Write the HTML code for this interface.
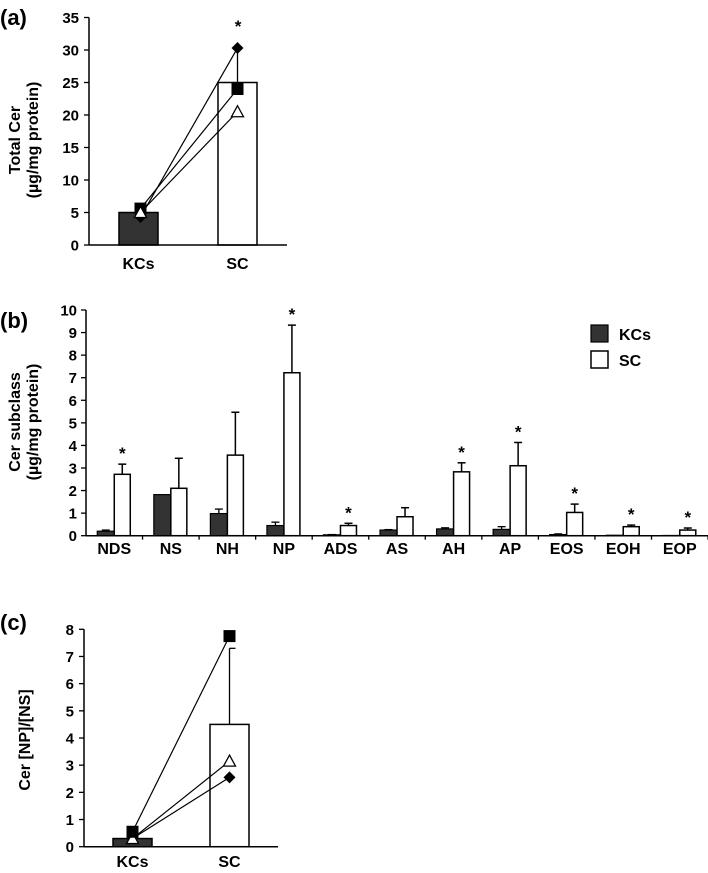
<!DOCTYPE html>
<html><head><meta charset="utf-8"><style>
html,body{margin:0;padding:0;background:#fff}
svg{display:block;font-family:"Liberation Sans",Arial,sans-serif}
</style></head><body>
<svg id="fig" width="708" height="873" viewBox="0 0 708 873" xmlns="http://www.w3.org/2000/svg"></svg>
<script>
// Panel a data
const aGroups = ["KCs","SC"];
const aMeans = [5.0, 25.0];
const aErrTop = [null, 30.3];
const aDiamond = [4.3, 30.3];
const aSquare = [5.6, 24.0];
const aTriangle = [5.0, 20.5];
const aTicks = [0,5,10,15,20,25,30,35];
// Panel b data
const bCats = ["NDS","NS","NH","NP","ADS","AS","AH","AP","EOS","EOH","EOP"];
const bKC = [0.2,1.82,0.98,0.45,0.04,0.25,0.3,0.28,0.05,0.02,0.01];
const bKCerr = [0.25,1.82,1.18,0.6,0.05,0.27,0.35,0.4,0.08,0.02,0.01];
const bSC = [2.72,2.1,3.57,7.22,0.45,0.84,2.83,3.1,1.03,0.4,0.25];
const bSCerr = [3.17,3.43,5.47,9.33,0.55,1.24,3.23,4.13,1.4,0.47,0.34];
const bStar = [1,0,0,1,1,0,1,1,1,1,1];
const bTicks = [0,1,2,3,4,5,6,7,8,9,10];
// Panel c data
const cGroups = ["KCs","SC"];
const cMeans = [0.3, 4.5];
const cErrTop = [null, 7.3];
const cSquare = [0.55, 7.75];
const cTriangle = [0.3, 3.15];
const cDiamond = [0.3, 2.55];
const cTicks = [0,1,2,3,4,5,6,7,8];

const svg=document.getElementById('fig');
const NS='http://www.w3.org/2000/svg';
function mk(tag,attrs,parent){const e=document.createElementNS(NS,tag);for(const k in attrs)e.setAttribute(k,attrs[k]);(parent||svg).appendChild(e);return e;}
function txt(s,x,y,size,anchor,weight,name,rot){const t=mk('text',{x:x,y:y,'font-size':size,'text-anchor':anchor||'middle','font-weight':weight||'bold',fill:'#000'});if(rot)t.setAttribute('transform','rotate(-90 '+x+' '+y+')');t.textContent=s;


return t;}
function line(x1,y1,x2,y2,w,name){const l=mk('line',{x1:x1,y1:y1,x2:x2,y2:y2,stroke:'#000','stroke-width':w||1.5});


return l;}
function marker(type,x,y,name){let e;
 if(type==='sq')e=mk('rect',{x:x-6,y:y-6,width:12,height:12,fill:'#000'});
 else if(type==='di')e=mk('polygon',{points:`${x},${y-6} ${x+6},${y} ${x},${y+6} ${x-6},${y}`,fill:'#000'});
 else e=mk('polygon',{points:`${x},${y-6} ${x+6},${y+5} ${x-6},${y+5}`,fill:'#fff',stroke:'#000','stroke-width':1.3});
 
 }

// ---------- Panel a ----------
(function(){
 const x0=89,x1=287,y0=245,y1=17.5,max=35;
 const ys=v=>y0-(v/max)*(y0-y1);
 const cx=[138.5,237.5];
 txt('(a)',0,25,22,'start','bold','panel-a-label');
 aTicks.forEach(t=>{line(x0-5,ys(t),x0,ys(t),1.3,'a-y-tick');txt(String(t),79,ys(t)+5.5,15,'end','bold','a-y-tick-label');});
 const cols=['#333','#fff'];
 aMeans.forEach((m,i)=>{const r=mk('rect',{x:cx[i]-19.5,y:ys(m),width:39,height:y0-ys(m),fill:cols[i],stroke:'#000','stroke-width':1.5});
  
  
  if(aErrTop[i]!=null){line(cx[i],ys(m),cx[i],ys(aErrTop[i]),1.3,'a-error-bar');}
  txt(aGroups[i],cx[i],269,16,'middle','bold','a-x-label');});
 txt('*',238,32,17,'middle','bold','a-significance');
 [[aDiamond,'di'],[aSquare,'sq'],[aTriangle,'tr']].forEach(([arr,t])=>{line(cx[0]+2,ys(arr[0]),cx[1],ys(arr[1]),1.2,'a-paired-line');});
 [[aDiamond,'di'],[aSquare,'sq'],[aTriangle,'tr']].forEach(([arr,t])=>{marker(t,cx[0]+2,ys(arr[0]),'a-point');marker(t,cx[1],ys(arr[1]),'a-point');});
 line(x0,y1,x0,y0,1.5,'a-y-axis');line(x0,y0,x1,y0,1.5,'a-x-axis');
 txt('Total Cer',20,140,16,'middle','bold','a-y-axis-title',true);
 txt('(µg/mg protein)',38,140,16,'middle','bold','a-y-axis-unit',true);
})();

// ---------- Panel b ----------
(function(){
 const x0=86,x1=708,y0=535.7,y1=310,max=10,step=56.55;
 const ys=v=>y0-(v/max)*(y0-y1);
 txt('(b)',0,328,22,'start','bold','panel-b-label');
 bTicks.forEach(t=>{line(x0-5,ys(t),x0,ys(t),1.3,'b-y-tick');txt(String(t),77,ys(t)+5.5,15,'end','bold','b-y-tick-label');});
 bCats.forEach((c,i)=>{
  const s=x0+i*step, cx=s+step/2;
  line(s+step,y0,s+step,y0+4,1.3,'b-x-tick');
  const k=mk('rect',{x:cx-17,y:ys(bKC[i]),width:17,height:y0-ys(bKC[i]),fill:'#333',stroke:'#000','stroke-width':1.2});
  
  
  if(bKCerr[i]>bKC[i]){line(cx-8.5,ys(bKC[i]),cx-8.5,ys(bKCerr[i]),1.3,'b-kcs-error');line(cx-12.5,ys(bKCerr[i]),cx-4.5,ys(bKCerr[i]),1.3,'b-kcs-error-cap');}
  const r=mk('rect',{x:cx,y:ys(bSC[i]),width:16,height:y0-ys(bSC[i]),fill:'#fff',stroke:'#000','stroke-width':1.5});
  
  
  line(cx+8,ys(bSC[i]),cx+8,ys(bSCerr[i]),1.5,'b-sc-error');line(cx+4,ys(bSCerr[i]),cx+12,ys(bSCerr[i]),1.5,'b-sc-error-cap');
  if(bStar[i])txt('*',cx+8,ys(bSCerr[i])-5,17,'middle','bold','b-significance');
  txt(c,cx,554,16,'middle','bold','b-x-label');
 });
 line(x0,y1,x0,y0,1.5,'b-y-axis');line(x0,y0,x1,y0,1.5,'b-x-axis');
 txt('Cer subclass',20,422,16,'middle','bold','b-y-axis-title',true);
 txt('(µg/mg protein)',38,422,16,'middle','bold','b-y-axis-unit',true);
 const g=mk('g',{});
 const l1=mk('rect',{x:591,y:325,width:17,height:17,fill:'#333',stroke:'#000','stroke-width':1.2},g);
 
 const l2=mk('rect',{x:591,y:351,width:17,height:17,fill:'#fff',stroke:'#000','stroke-width':1.5},g);
 
 txt('KCs',619,340,16,'start','bold','legend-label-kcs');
 txt('SC',619,366,16,'start','bold','legend-label-sc');
})();

// ---------- Panel c ----------
(function(){
 const x0=84,x1=278,y0=846.7,y1=629.3,max=8;
 const ys=v=>y0-(v/max)*(y0-y1);
 const cx=[132.5,229.5];
 txt('(c)',0,630,22,'start','bold','panel-c-label');
 cTicks.forEach(t=>{line(x0-5,ys(t),x0,ys(t),1.3,'c-y-tick');txt(String(t),74,ys(t)+5.5,15,'end','bold','c-y-tick-label');});
 const cols=['#333','#fff'];
 cMeans.forEach((m,i)=>{const r=mk('rect',{x:cx[i]-19.5,y:ys(m),width:39,height:y0-ys(m),fill:cols[i],stroke:'#000','stroke-width':1.5});
  
  
  if(cErrTop[i]!=null){line(cx[i],ys(m),cx[i],ys(cErrTop[i]),1.3,'c-error-bar');line(cx[i],ys(cErrTop[i]),cx[i]+6,ys(cErrTop[i]),1.3,'c-error-cap');}
  txt(cGroups[i],cx[i],867,16,'middle','bold','c-x-label');});
 [[cSquare,'sq'],[cTriangle,'tr'],[cDiamond,'di']].forEach(([arr,t])=>{line(cx[0],ys(arr[0]),cx[1],ys(arr[1]),1.2,'c-paired-line');});
 [[cDiamond,'di'],[cTriangle,'tr'],[cSquare,'sq']].forEach(([arr,t])=>{marker(t,cx[0],ys(arr[0]),'c-point');marker(t,cx[1],ys(arr[1]),'c-point');});
 line(x0,y1,x0,y0,1.5,'c-y-axis');line(x0,y0,x1,y0,1.5,'c-x-axis');
 txt('Cer [NP]/[NS]',30,740,16,'middle','bold','c-y-axis-title',true);
})();
</script>
</body></html>
